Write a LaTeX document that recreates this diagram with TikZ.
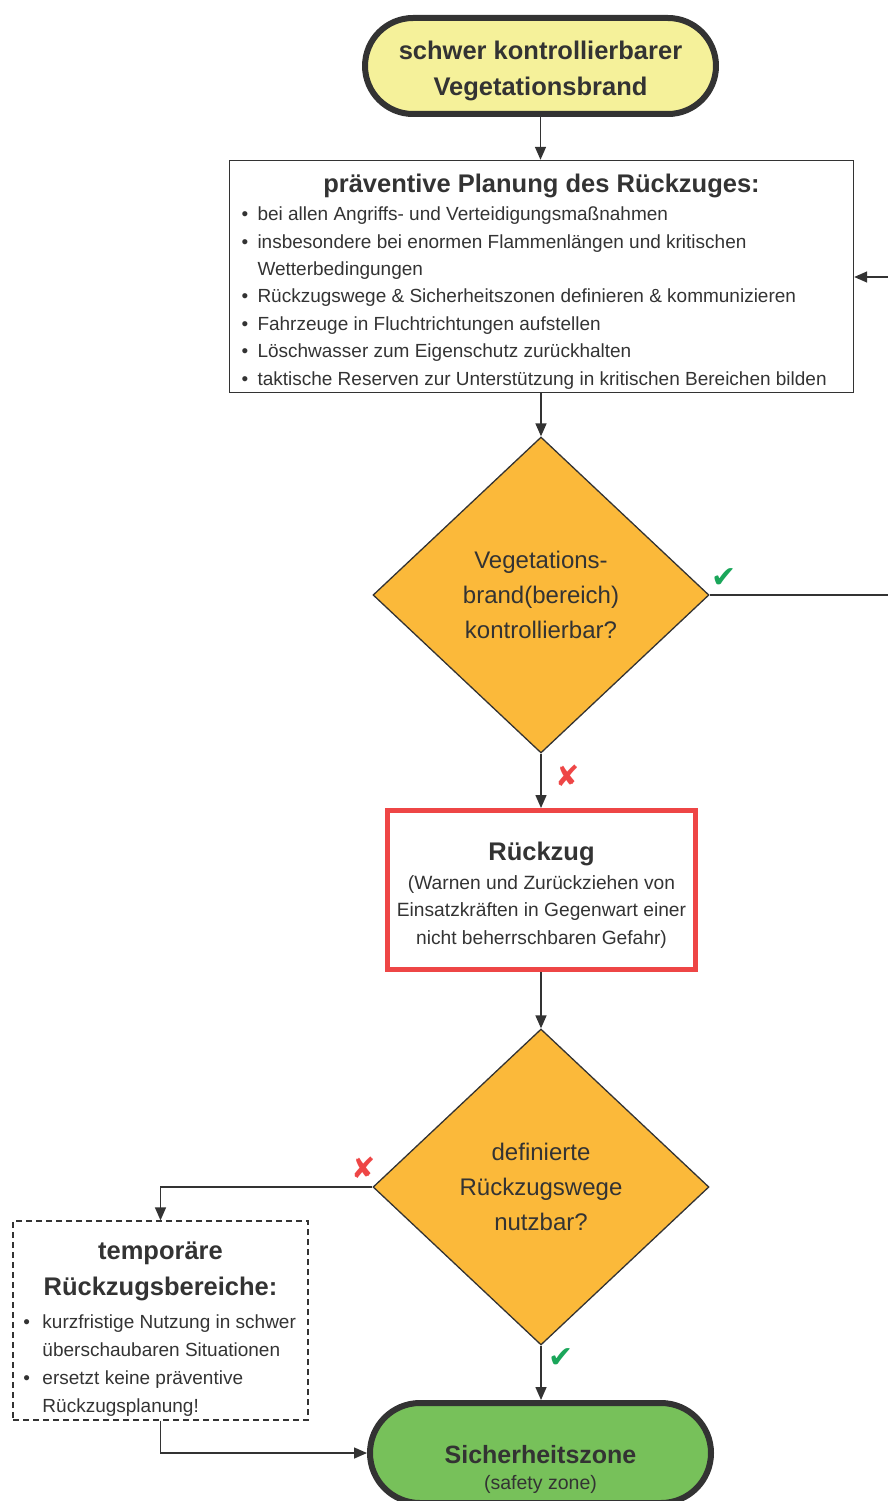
\documentclass[tikz,border=0pt]{standalone}
\usepackage{fontspec}
\setmainfont{Liberation Sans}
\newfontfamily\symf{DejaVu Sans}
\usetikzlibrary{shapes.geometric,shapes.misc,arrows.meta}
\definecolor{ink}{HTML}{333333}
\definecolor{tyellow}{HTML}{F5F19A}
\definecolor{dorange}{HTML}{FBB93A}
\definecolor{tgreen}{HTML}{77C15A}
\definecolor{rred}{HTML}{EE4646}
\definecolor{okgreen}{HTML}{1AA65A}
\newcommand\bul[2][16pt]{\par\hangindent=#1\hangafter=1\noindent\makebox[#1][l]{•}#2}
\newcommand\shifted[3]{\raisebox{-#1}[\height][\depth]{\parbox{#2}{#3}}}
\begin{document}
\begin{tikzpicture}[x=1pt,y=-1pt,
  term/.style={rounded rectangle, draw=ink, line width=6pt, minimum width=341pt, minimum height=96pt, inner sep=0pt, align=center, text=ink},
  dec/.style={diamond, draw=ink, fill=dorange, line width=1.3pt, minimum width=336pt, minimum height=316pt, inner sep=0pt, align=center, text=ink, font=\fontsize{24}{35}\selectfont},
  arr/.style={draw=ink, line width=1.5pt, -{Triangle[length=13pt,width=11pt]}},
  conn/.style={draw=ink, line width=1.5pt},
  okmark/.style={text=okgreen, font=\symf\fontsize{30}{30}\selectfont, inner sep=0pt},
  nomark/.style={text=rred, font=\symf\fontsize{29}{29}\selectfont, inner sep=0pt}]
\useasboundingbox (0,0) rectangle (888,1501);

\node[term, fill=tyellow] (start) at (540.5,66) {\shifted{5pt}{330pt}{\centering\bfseries\fontsize{25.5}{36}\selectfont schwer kontrollierbarer\\Vegetationsbrand}};

\node[draw=ink, line width=1.4pt, minimum width=624pt, minimum height=232pt, inner sep=0pt, text=ink] (plan) at (541.5,276.5) {\shifted{5pt}{600pt}{%
{\centering\bfseries\fontsize{25.5}{30}\selectfont präventive Planung des Rückzuges:\par}%
\vspace{1pt}\raggedright\fontsize{19}{27.4}\selectfont
\bul{bei allen Angriffs- und Verteidigungsmaßnahmen}
\bul{insbesondere bei enormen Flammenlängen und kritischen\newline Wetterbedingungen}
\bul{Rückzugswege \& Sicherheitszonen definieren \& kommunizieren}
\bul{Fahrzeuge in Fluchtrichtungen aufstellen}
\bul{Löschwasser zum Eigenschutz zurückhalten}
\bul{taktische Reserven zur Unterstützung in kritischen Bereichen bilden}\par}};

\node[dec] (d1) at (541,595) {Vegetations-\\brand(bereich)\\kontrollierbar?};

\node[draw=rred, line width=5pt, minimum width=308pt, minimum height=159pt, inner sep=0pt, text=ink] (rz) at (541.5,890) {\shifted{5pt}{300pt}{\centering
{\bfseries\fontsize{25.5}{30}\selectfont Rückzug\par}%
\vspace{1pt}{\fontsize{19.2}{27.5}\selectfont (Warnen und Zurückziehen von\\Einsatzkräften in Gegenwart einer\\nicht beherrschbaren Gefahr)\par}}};

\node[dec] (d2) at (541,1187) {definierte\\Rückzugswege\\nutzbar?};

\node[draw=ink, dashed, dash pattern=on 6pt off 4pt, line width=1.3pt, minimum width=295pt, minimum height=199pt, inner sep=0pt, text=ink] (temp) at (160.5,1320.5) {\shifted{9pt}{290pt}{%
{\centering\bfseries\fontsize{25.5}{36}\selectfont temporäre\\Rückzugsbereiche:\par}%
\vspace{5pt}\raggedright\leftskip=8pt\fontsize{19}{28}\selectfont
\bul[19pt]{kurzfristige Nutzung in schwer\newline überschaubaren Situationen}
\bul[19pt]{ersetzt keine präventive\newline Rückzugsplanung!}\par}};

\node[term, fill=tgreen, minimum height=100pt] (sz) at (540.5,1453) {\shifted{16pt}{300pt}{\centering{\bfseries\fontsize{25}{30}\selectfont Sicherheitszone\par}\vspace{2pt}{\fontsize{19.5}{24}\selectfont (safety zone)\par}}};

\coordinate (rout) at (888,595);
\coordinate (rin) at (888,277);

\draw[arr] (start.south) -- (start.south |- plan.north);
\draw[arr] (plan.south -| d1.north) -- (d1.north);
\draw[conn] (d1.east) -- (rout);
\draw[arr] (rin) -- (rin -| plan.east);
\draw[arr] (d1.south) -- (rz.north -| d1.south);
\draw[arr] (rz.south -| d2.north) -- (d2.north);
\draw[arr] (d2.west) -| (temp.north);
\draw[arr] (temp.south) |- (sz.west);
\draw[arr] (d2.south) -- (d2.south |- sz.north);

\node[okmark] (ok1) at (724,578) {✔};
\node[nomark] (no1) at (568,776) {✘};
\node[nomark] (no2) at (364,1168) {✘};
\node[okmark] (ok2) at (561,1358) {✔};
\end{tikzpicture}
\end{document}
